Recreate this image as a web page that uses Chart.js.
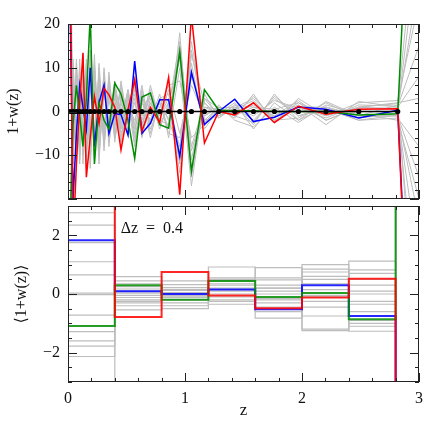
<!DOCTYPE html>
<html>
<head>
<title>1+w(z) reconstruction</title>
<script src="https://cdn.jsdelivr.net/npm/chart.js@4.4.1/dist/chart.umd.min.js"></script>
<style>
  body { margin: 0; background: #fff; }
  #wrap { position: relative; width: 443px; height: 443px; }
  #topChart { position: absolute; left: 0; top: 0; }
  #botChart { position: absolute; left: 0; top: 200px; }
</style>
</head>
<body>
<div id="wrap">
  <canvas id="topChart" width="443" height="205"></canvas>
  <canvas id="botChart" width="443" height="243"></canvas>
</div>
<script>
// ---- top panel: 1+w(z) at the redshift nodes (last node z=3 is off scale)
const zNodes = [0.015, 0.043, 0.072, 0.1, 0.128, 0.157, 0.19, 0.226, 0.265, 0.308,
  0.35, 0.4, 0.453, 0.513, 0.57, 0.632, 0.704, 0.784, 0.86, 0.955,
  1.055, 1.166, 1.288, 1.425, 1.585, 1.764, 1.969, 2.205, 2.485, 2.818, 3.0];

const blueTop  = [30, -20, -5, 6, 1, -4, 10, -8, 2, 6, -5, -0.5, -0.7, -5.4, 11.5, -5, -2.7, 2.7, 2.7, -10.3,
  9, -3, 0, 2.8, -2.3, -1.3, 1, 0.5, -1.5, 0.3, -100];
const greenTop = [-30, -3, 6, -1, -8, 3, 22, -12, 2, -2, -4, 6.5, 4, -2, -10.7, 3.3, 4.2, -3, -3.8, 13.7,
  -13.7, 5, 0.3, 0.2, 0.2, 0, 0, 0, -0.8, -0.5, 100];
const redTop   = [45, -30, -12, 2, 13.4, -15, -6, 3.4, -2.7, 5.3, 3.8, 1, -8.8, 0.4, 7.2, -4.5, 1, -2.5, 7.8, -19,
  22, -7.2, 0, -0.8, 2, -2.5, 1.2, -0.6, 0.5, 0.6, -110];
const zeroTop  = [0, 0, 0, 0, 0, 0, 0, 0, 0, 0, 0, 0, 0, 0, 0, 0, 0, 0, 0, 0, 0, 0, 0, 0, 0, 0, 0, 0, 0, 0];

const grayTop = [
  [45, -8, 10, -6, 9, -11, 14, -9, 6, -4, 5, -3, 6, -2, 4, -3, 2, -1, 3, -12, 16, -2, 1, -1, 2, -2, 1, -1, 1, 0.5, 40],
  [-50, 9, -11, 8, -5, 12, -13, 7, -8, 7, -6, 5, -4, 4, -5, 5, -3, 2, -4, 18, -15, 3, -1, 1.5, -3, 4, -2, 1, -1, 1.5, -60],
  [30, -12, 6, -10, 13, -7, 9, -12, 10, -8, 3, -6, 3, -5, 8, -2, 4, -3, 1, -8, 11, -4, 0.5, -1.5, 4, -2.7, 3, -1, 2, 2.5, 25],
  [-35, 4, -9, 12, -8, 6, -10, 11, -5, 9, -7, 2, -6, 3, -3, 6, -5, 3, -2, 15, -9, 1, -0.5, 2, -4, 2, -2, 2.3, -1, -1, -35],
  [60, -10, 12, -3, 5, -9, 6, -5, 9, -9, 8, -4, 7, -3, 2, -4, 6, -2, 5, -5, 6, -1, 1, -0.5, 1.5, -1, 1.5, -3, 2.3, 1, 8],
  [-28, 6, -4, 9, -12, 4, -6, 13, -10, 4, -2, 7, -2, 5, -6, 2, -2, 4, -6, 10, -17, 4, -1.5, 1, -2, 3, -1, 0.5, -2, -1.5, -8],
  [38, -5, 8, -11, 7, -13, 11, -4, 4, -6, 9, -7, 4, -1, 5, -5, 3, -4, 2, -14, 13, 2, -1, 0.8, 3, -1.5, 2, -2, 1, 2, 3],
  [-45, 11, -7, 5, -9, 10, -3, 8, -12, 10, -4, 3, -7, 2, -8, 4, -4, 1, 6, 7, -6, -3, 1.5, -2, -3.5, 1, -2.5, 1.5, -0.5, -2, -20],
  [25, -9, 5, -7, 11, -4, 12, -7, 3, -3, 6, -5, 2, -4, 7, -1, 5, -2, -3, 13, -11, 3, 0.8, 1, -1, 2.5, 0.8, -1.5, 1.5, 1.2, 15],
  [-60, 7, -12, 6, -6, 8, -9, 5, -6, 8, -8, 6, -3, 5, -4, 3, -6, 3, 4, -10, 9, -2, -1, 0.5, 2.5, -2, -1.5, 2, -1.5, -0.5, -50],
  [50, -11, 9, -8, 4, -10, 8, -11, 11, -5, 4, -2, 5, -3, 3, -6, 2, -3, 1, 16, -13, 1, 0.5, -1, 1, 0.5, 2, -0.5, 0.8, 0.8, 30],
  [-40, 12, -6, 10, -10, 5, -12, 9, -4, 6, -5, 4, -5, 1, -2, 4, -3, 2, -5, -6, 8, -1, 1, -1, -2.5, 3.5, -1, 1, -1, -1, -15],
  [35, -6, 11, -12, 8, -6, 13, -6, 7, -7, 7, -6, 1, -2, 6, -3, 4, -1, 2, 12, -8, 2, -1.5, 1.5, 1, -1, 2.5, -2, 1, 1.8, 50],
  [-30, 10, -10, 7, -7, 11, -5, 10, -9, 5, -3, 5, -4, 4, -7, 2, -1, 2, -2, -9, 14, -2.5, 0.5, -1, 3.5, -2, 1, 1, -2, -0.8, -25]
];

// ---- bottom panel: bin averages, dz = 0.4 (last bin is off scale)
const binEdges = [0, 0.4, 0.8, 1.2, 1.6, 2.0, 2.4, 2.8, 3.2];
const blueBins  = [1.83, 0.09, 0.0, 0.15, -0.52, 0.3, -0.75, -8];
const greenBins = [-1.09, 0.3, -0.2, 0.44, -0.1, 0.03, -0.86, 8];
const redBins   = [8, -0.78, 0.75, -0.05, -0.49, -0.12, 0.52, -8];
const grayBins = [
  [2.77, 0.1, 0.45, 0.0, 0.9, -0.45, 0.5, 8],
  [2.35, -0.3, 0.05, 0.55, -0.15, 0.85, -1.1, -8],
  [1.75, 0.45, -0.2, 0.92, 0.3, 0.35, 0.82, 8],
  [1.1, -0.12, 0.22, -0.2, 0.55, -1.2, 0.0, -8],
  [0.65, 0.59, -0.4, 0.35, -0.6, 1.0, -0.35, 8],
  [0.03, -0.05, 0.32, 0.2, -0.3, -0.25, 1.12, -8],
  [-0.02, 0.25, -0.05, -0.35, 0.48, 0.75, -0.6, 8],
  [-0.72, -0.2, 0.12, 0.45, 0.0, -0.05, 0.3, -8],
  [-1.28, 0.35, -0.3, -0.1, -0.82, 0.15, -1.27, 8],
  [-1.6, -0.54, 0.02, 0.1, 0.1, -0.75, 0.7, -8],
  [-1.78, 0.17, -0.12, 0.3, -0.45, 0.5, -0.9, 8],
  [-2.13, -0.4, -0.5, -0.25, 0.2, -1.25, -0.25, -8],
  [8, 0.03, 0.15, 0.5, -0.2, 0.6, 0.1, -8],
  [-8, -0.25, -0.1, 0.15, 0.2, -0.1, -1.0, 8]
];

const serif = '"Liberation Serif", "DejaVu Serif", serif';
const GRAY = '#bdbdbd';

function pts(xs, ys) {
  return ys.map((y, i) => ({ x: xs[i], y: y }));
}
function binPts(vals) {
  const p = vals.map((v, i) => ({ x: binEdges[i], y: v }));
  p.push({ x: binEdges[vals.length], y: vals[vals.length - 1] });
  return p;
}

// frame + inward tick marks on all four sides
const frameTicks = {
  id: 'frameTicks',
  afterDatasetsDraw(chart, args, o) {
    const ctx = chart.ctx, a = chart.chartArea;
    const x = chart.scales.x, y = chart.scales.y;
    ctx.save();
    ctx.strokeStyle = '#222';
    ctx.lineWidth = 1;
    ctx.beginPath();
    for (let v = x.min; v <= x.max + 1e-9; v += o.xMinor) {
      const p = Math.round(x.getPixelForValue(v)) + 0.5;
      const big = Math.abs(v / o.xMajor - Math.round(v / o.xMajor)) < 1e-6;
      const len = big ? 9 : 4;
      ctx.moveTo(p, a.bottom); ctx.lineTo(p, a.bottom - len);
      ctx.moveTo(p, a.top); ctx.lineTo(p, a.top + len);
    }
    for (let v = y.min; v <= y.max + 1e-9; v += o.yMinor) {
      const p = Math.round(y.getPixelForValue(v)) + 0.5;
      const big = Math.abs(v / o.yMajor - Math.round(v / o.yMajor)) < 1e-6;
      const len = big ? 9 : 4;
      ctx.moveTo(a.left, p); ctx.lineTo(a.left + len, p);
      ctx.moveTo(a.right, p); ctx.lineTo(a.right - len, p);
    }
    ctx.stroke();
    ctx.strokeRect(Math.round(a.left) + 0.5, Math.round(a.top) + 0.5,
      Math.round(a.right - a.left) - 1, Math.round(a.bottom - a.top) - 1);
    if (o.note) {
      ctx.fillStyle = '#111';
      ctx.font = '16px ' + serif;
      ctx.textBaseline = 'middle';
      ctx.fillText(o.note.text, x.getPixelForValue(o.note.x), y.getPixelForValue(o.note.y));
    }
    ctx.restore();
  }
};

function minus(v) {
  return String(v).replace('-', '\u2212');
}
// keep the plot box exactly where the layout padding puts it
function fixY(s) { s.width = 68; s.paddingTop = 0; s.paddingBottom = 0; }
function fixX(s) { s.height = 43; s.paddingLeft = 0; s.paddingRight = 0; }

// ---------- top chart
const topSets = [];
grayTop.forEach(g => topSets.push({ data: pts(zNodes, g), borderColor: GRAY, borderWidth: 1, pointRadius: 0, order: 10 }));
topSets.push({ data: pts(zNodes, blueTop), borderColor: '#0000ff', borderWidth: 1.5, pointRadius: 0, order: 4 });
topSets.push({ data: pts(zNodes, greenTop), borderColor: '#008c00', borderWidth: 1.5, pointRadius: 0, order: 3 });
topSets.push({ data: pts(zNodes, redTop), borderColor: '#ff0000', borderWidth: 1.5, pointRadius: 0, order: 2 });
topSets.push({ data: pts(zNodes, zeroTop), borderColor: '#000', borderWidth: 1.5, pointRadius: 2.6,
  pointBackgroundColor: '#000', pointBorderWidth: 0, order: 1 });

new Chart(document.getElementById('topChart'), {
  type: 'line',
  data: { datasets: topSets },
  options: {
    responsive: false,
    animation: false,
    layout: { autoPadding: false, padding: { left: 0, right: 24, top: 24, bottom: 6 } },
    plugins: { legend: { display: false }, tooltip: { enabled: false },
      frameTicks: { xMinor: 0.2, xMajor: 1, yMinor: 2, yMajor: 10 } },
    scales: {
      x: { type: 'linear', min: 0, max: 3, display: false },
      y: {
        min: -20, max: 20,
        afterFit: fixY,
        afterBuildTicks: s => { s.ticks = [20, 10, 0, -10].map(v => ({ value: v })); },
        grid: { display: false, drawTicks: false },
        border: { display: false },
        ticks: { padding: 8, color: '#111', font: { family: serif, size: 16 }, callback: v => minus(v) },
        title: { display: true, text: '1+w(z)', color: '#111', font: { family: serif, size: 16 } }
      }
    }
  },
  plugins: [frameTicks]
});

// ---------- bottom chart
const botSets = [];
grayBins.forEach(g => botSets.push({ data: binPts(g), borderColor: GRAY, borderWidth: 1.2, pointRadius: 0, stepped: true, order: 10 }));
botSets.push({ data: binPts(blueBins), borderColor: 'rgba(0,0,255,0.85)', borderWidth: 2, pointRadius: 0, stepped: true, order: 4 });
botSets.push({ data: binPts(greenBins), borderColor: 'rgba(0,140,0,0.85)', borderWidth: 2, pointRadius: 0, stepped: true, order: 3 });
botSets.push({ data: binPts(redBins), borderColor: 'rgba(255,0,0,0.85)', borderWidth: 2, pointRadius: 0, stepped: true, order: 2 });

new Chart(document.getElementById('botChart'), {
  type: 'line',
  data: { datasets: botSets },
  options: {
    responsive: false,
    animation: false,
    layout: { autoPadding: false, padding: { left: 0, right: 24, top: 6, bottom: 18 } },
    plugins: { legend: { display: false }, tooltip: { enabled: false },
      frameTicks: { xMinor: 0.2, xMajor: 1, yMinor: 0.5, yMajor: 2,
        note: { text: '\u0394z  =  0.4', x: 0.45, y: 2.22 } } },
    scales: {
      x: {
        type: 'linear', min: 0, max: 3,
        afterFit: fixX,
        afterBuildTicks: s => { s.ticks = [0, 1, 2, 3].map(v => ({ value: v })); },
        grid: { display: false, drawTicks: false },
        border: { display: false },
        ticks: { padding: 7, color: '#111', maxRotation: 0, font: { family: serif, size: 16 } },
        title: { display: true, text: 'z', color: '#111', font: { family: serif, size: 17 } }
      },
      y: {
        min: -3, max: 3,
        afterFit: fixY,
        afterBuildTicks: s => { s.ticks = [2, 0, -2].map(v => ({ value: v })); },
        grid: { display: false, drawTicks: false },
        border: { display: false },
        ticks: { padding: 8, color: '#111', font: { family: serif, size: 16 }, callback: v => minus(v) },
        title: { display: true, text: '\u27E81+w(z)\u27E9', color: '#111', padding: { top: 12, bottom: 4 },
          font: { family: serif, size: 16 } }
      }
    }
  },
  plugins: [frameTicks]
});
</script>
</body>
</html>
